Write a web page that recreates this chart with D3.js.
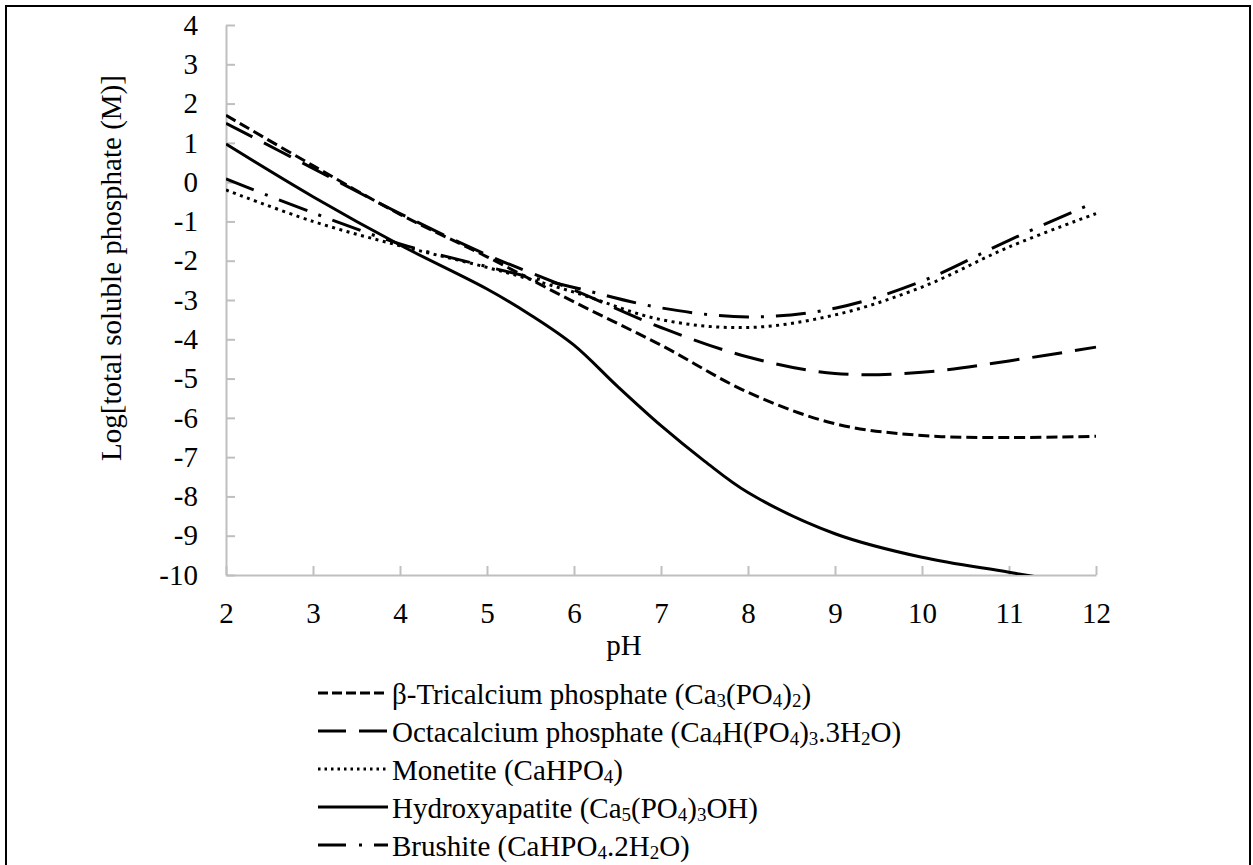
<!DOCTYPE html>
<html>
<head>
<meta charset="utf-8">
<script src="https://cdn.jsdelivr.net/npm/d3@7"></script>
<style>
  body { margin: 0; background: #fff; }
  svg { display: block; font-family: "Liberation Serif", "Times New Roman", serif; }
  .axis path, .axis line { stroke: #bfbfbf; stroke-width: 2; }
  .axis text { font-family: "Liberation Serif", "Times New Roman", serif; font-size: 29px; fill: #000; }
</style>
</head>
<body>
<svg id="chart" width="1253" height="865"></svg>
<script>
// values (pH vs log total soluble phosphate)
var phTicks = [2, 3, 4, 5, 6, 7, 8, 9, 10, 11, 12];
var logTicks = [4, 3, 2, 1, 0, -1, -2, -3, -4, -5, -6, -7, -8, -9, -10];

var phValues = [2, 3, 4, 5, 6, 7, 8, 9, 10, 11, 12];
var tcpValues = [1.7, 0.42, -0.82, -1.9, -3.05, -4.15, -5.35, -6.15, -6.45, -6.5, -6.47];
var ocpValues = [1.5, 0.35, -0.8, -1.85, -2.75, -3.7, -4.45, -4.87, -4.84, -4.55, -4.2];
var monetiteValues = [-0.2, -1.0, -1.62, -2.17, -2.8, -3.5, -3.7, -3.38, -2.67, -1.65, -0.8];
var brushiteValues = [0.08, -0.78, -1.57, -2.15, -2.68, -3.2, -3.43, -3.21, -2.52, -1.48, -0.5];

var hapPh = [2, 3, 4, 5, 5.5, 6, 6.5, 7, 7.5, 8, 9, 10, 11, 12];
var hapValues = [0.97, -0.37, -1.6, -2.72, -3.38, -4.15, -5.2, -6.2, -7.1, -7.9, -8.95, -9.55, -9.93, -10.3];

// legend labels, "_n" marks a subscript digit
var seriesNames = [
  "β-Tricalcium phosphate (Ca_3(PO_4)_2)",
  "Octacalcium phosphate (Ca_4H(PO_4)_3.3H_2O)",
  "Monetite (CaHPO_4)",
  "Hydroxyapatite (Ca_5(PO_4)_3OH)",
  "Brushite (CaHPO_4.2H_2O)"
];

var series = [
  {name: seriesNames[0], x: phValues, y: tcpValues, dash: "11,5", legendDash: "10,4"},
  {name: seriesNames[1], x: phValues, y: ocpValues, dash: "30,13", legendDash: "28,13"},
  {name: seriesNames[2], x: phValues, y: monetiteValues, dash: "3,4.5", legendDash: "2.5,4"},
  {name: seriesNames[3], x: hapPh, y: hapValues, dash: null, legendDash: null},
  {name: seriesNames[4], x: phValues, y: brushiteValues, dash: "30,12,3,12", legendDash: "28,13,3,12"}
];

var svg = d3.select("#chart");
var margin = {left: 226, top: 25, right: 157, bottom: 290};
var width = 1253 - margin.left - margin.right;
var height = 865 - margin.top - margin.bottom;

// outer frame
svg.append("rect")
    .attr("x", 6).attr("y", 6)
    .attr("width", 1244).attr("height", 900)
    .attr("fill", "none")
    .attr("stroke", "#000")
    .attr("stroke-width", 2);

var g = svg.append("g")
    .attr("transform", "translate(" + margin.left + "," + margin.top + ")");

var x = d3.scaleLinear().domain([2, 12]).range([0, width]);
var y = d3.scaleLinear().domain([-10, 4]).range([height, 0]);

// plain hyphen for negatives, like the reference
var fmt = function(d) { return String(d); };

g.append("g")
    .attr("class", "axis")
    .call(d3.axisLeft(y).tickValues(logTicks).tickFormat(fmt)
      .tickSize(-9).tickPadding(28).tickSizeOuter(0));

g.append("g")
    .attr("class", "axis")
    .attr("transform", "translate(0," + height + ")")
    .call(d3.axisBottom(x).tickValues(phTicks).tickFormat(fmt)
      .tickSize(-9).tickPadding(27).tickSizeOuter(0));

g.selectAll(".axis").attr("font-family", null).attr("font-size", null);

// axis titles
svg.append("text")
    .attr("x", 624).attr("y", 655)
    .attr("text-anchor", "middle")
    .style("font-size", "29px")
    .text("pH");

svg.append("text")
    .attr("transform", "translate(121," + (margin.top + 243) + ") rotate(-90)")
    .attr("text-anchor", "middle")
    .style("font-size", "29px")
    .text("Log[total soluble phosphate (M)]");

// clip so Hydroxyapatite stops at the -10 axis
g.append("clipPath").attr("id", "plotclip")
  .append("rect")
    .attr("x", 0).attr("y", -5)
    .attr("width", width + 2).attr("height", height + 5);

var line = d3.line()
    .x(function(d) { return x(d[0]); })
    .y(function(d) { return y(d[1]); })
    .curve(d3.curveCatmullRom.alpha(0.5));

var plot = g.append("g").attr("clip-path", "url(#plotclip)");

series.forEach(function(s) {
  var pts = s.x.map(function(v, i) { return [v, s.y[i]]; });
  plot.append("path")
      .datum(pts)
      .attr("d", line)
      .attr("fill", "none")
      .attr("stroke", "#000")
      .attr("stroke-width", 3)
      .attr("stroke-dasharray", s.dash);
});

// legend
var legendTop = 693, legendStep = 38;
var legend = svg.append("g");

series.forEach(function(s, i) {
  var ly = legendTop + i * legendStep;
  legend.append("line")
      .attr("x1", 318).attr("x2", 388)
      .attr("y1", ly).attr("y2", ly)
      .attr("stroke", "#000")
      .attr("stroke-width", 3)
      .attr("stroke-dasharray", s.legendDash);

  var t = legend.append("text")
      .attr("x", 392).attr("y", ly + 11)
      .style("font-size", "29px");

  // split into normal text and subscript digits
  var parts = s.name.split(/(_\d)/).filter(function(p) { return p; });
  var shift = 0;
  parts.forEach(function(p) {
    if (p[0] === "_") {
      t.append("tspan")
          .attr("dy", 3 - shift)
          .style("font-size", "19px")
          .text(p.slice(1));
      shift = 3;
    } else {
      t.append("tspan")
          .attr("dy", -shift)
          .text(p);
      shift = 0;
    }
  });
});
</script>
</body>
</html>
